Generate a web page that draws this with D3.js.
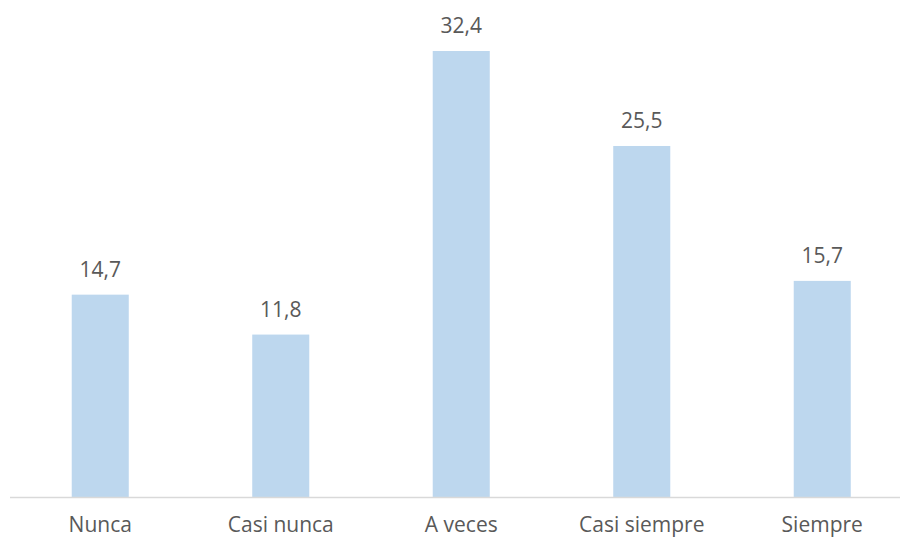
<!DOCTYPE html>
<html><head><meta charset="utf-8">
<script src="https://cdn.jsdelivr.net/npm/d3@7"></script>
<style>body{margin:0;background:#fff}svg{display:block}</style>
</head><body>
<svg id="c" width="900" height="538"></svg>
<script>
const categories = ["Nunca", "Casi nunca", "A veces", "Casi siempre", "Siempre"];
const values = [14.7, 11.8, 32.4, 25.5, 15.7];
const labels = ["14,7", "11,8", "32,4", "25,5", "15,7"];

const svg = d3.select("#c");
const font = "'Open Sans', sans-serif";
const x = d3.scaleBand().domain(categories).range([10, 912.5]).paddingInner(0.684).paddingOuter(0.342);
const y = d3.scaleLinear().domain([0, 36]).range([497, 1.45]);

svg.selectAll("rect.bar").data(values).enter().append("rect")
  .attr("x", (d,i) => x(categories[i]))
  .attr("width", x.bandwidth())
  .attr("y", d => y(d))
  .attr("height", d => y(0) - y(d))
  .attr("fill", "#BDD7EE");

svg.append("line").attr("x1", 10).attr("x2", 900).attr("y1", y(0)+0.5).attr("y2", y(0)+0.5)
  .attr("stroke", "#D9D9D9").attr("stroke-width", 1.5);

svg.selectAll("text.val").data(values).enter().append("text")
  .attr("x", (d,i) => x(categories[i]) + x.bandwidth()/2)
  .attr("y", d => y(d) - 18)
  .attr("text-anchor", "middle")
  .attr("font-family", font).attr("font-size", 21).attr("fill", "#595959")
  .text((d,i) => labels[i]);

const xAxis = d3.axisBottom(x).tickSize(0).tickPadding(0);
const g = svg.append("g").attr("transform", `translate(0,${y(0)})`).call(xAxis);
g.select(".domain").remove();
g.selectAll("text").attr("font-family", font).attr("font-size", 21).attr("fill", "#595959")
  .attr("dy", null).attr("y", 35);
</script>
</body></html>
